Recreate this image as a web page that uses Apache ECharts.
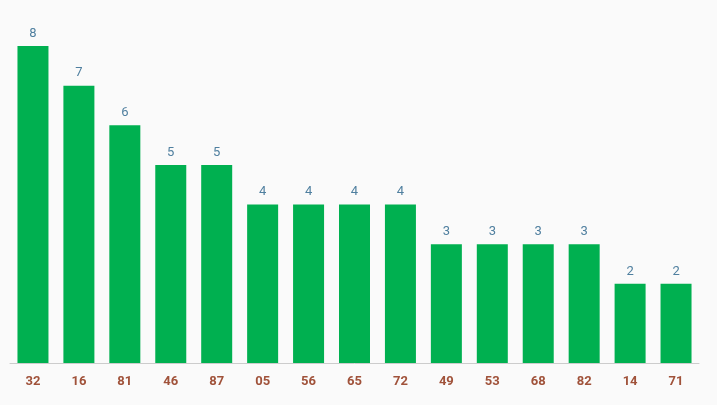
<!DOCTYPE html>
<html><head><meta charset="utf-8">
<script src="https://cdn.jsdelivr.net/npm/echarts@6/dist/echarts.min.js"></script>
<style>html,body{margin:0;padding:0;background:#fafafa}#c{width:717px;height:405px}</style>
</head><body><div id="c"></div>
<script>
const categories = ["32","16","81","46","87","05","56","65","72","49","53","68","82","14","71"];
const values = [8,7,6,5,5,4,4,4,4,3,3,3,3,2,2];
const chart = echarts.init(document.getElementById('c'));
chart.setOption({
  backgroundColor:'#fafafa',
  animation:false,
  grid:{left:10,right:18,top:46,bottom:42},
  xAxis:{type:'category',data:categories,
    axisLine:{lineStyle:{color:'#cccccc'}},axisTick:{show:false},
    axisLabel:{color:'#a0523a',fontWeight:'bold',fontSize:13,margin:12,fontFamily:'Roboto'}},
  yAxis:{type:'value',min:0,max:8,show:false},
  series:[{type:'bar',data:values,barWidth:31,itemStyle:{color:'#00b050'},
    label:{show:true,position:'top',color:'#4f7f9f',fontSize:13,distance:6,fontFamily:'Roboto'}}]
});
</script></body></html>
